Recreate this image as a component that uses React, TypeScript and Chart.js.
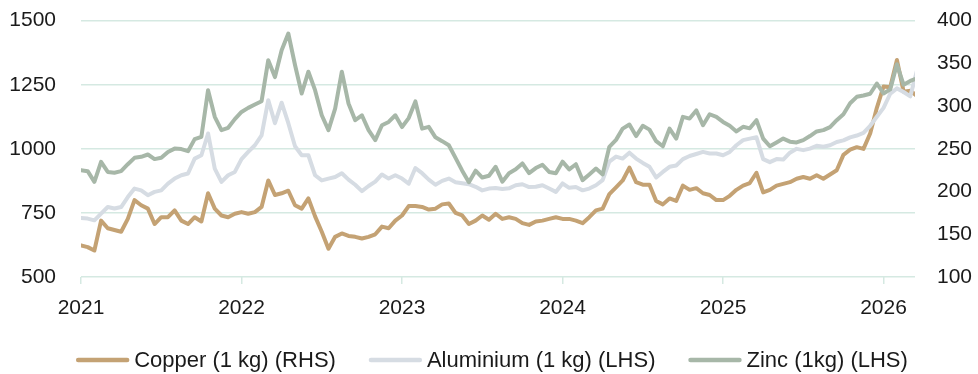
import { useEffect, useRef } from "react";
import { Chart, registerables } from "chart.js";

Chart.register(...registerables);

// Half-monthly observations starting in January 2021
const START_YEAR = 2021;
const STEPS_PER_YEAR = 24;

const yearTicks = [2021, 2022, 2023, 2024, 2025, 2026];
const leftTicks = [500, 750, 1000, 1250, 1500];
const rightTicks = [100, 150, 200, 250, 300, 350, 400];

// Copper, 1 kg (right-hand scale)
const copper = [
  137, 135, 131, 166, 157, 155, 153, 168, 190, 184, 180, 162, 170, 170, 178, 166, 162, 170, 165, 198, 180, 172, 170, 174,
  176, 174, 176, 182, 213, 196, 198, 201, 184, 180, 192, 171, 153, 133, 147, 151, 148, 147, 145, 147, 150, 159, 157, 166,
  172, 183, 183, 182, 179, 180, 185, 186, 175, 172, 162, 166, 172, 167, 174, 168, 170, 168, 163, 161, 165, 166, 168, 170,
  168, 168, 166, 163, 170, 178, 180, 197, 205, 213, 228, 211, 208, 208, 189, 185, 192, 189, 207, 202, 204, 198, 196, 190,
  190, 195, 202, 207, 210, 222, 199, 202, 207, 209, 211, 215, 217, 215, 219, 215, 220, 225, 243, 249, 252, 250, 268, 298,
  323, 322, 354, 317, 318, 312,
];

// Aluminium, 1 kg (left-hand scale)
const aluminium = [
  730, 728, 721, 747, 773, 767, 773, 812, 845, 838, 819, 832, 838, 864, 884, 897, 904, 962, 975, 1060, 923, 871, 897, 910,
  960, 988, 1014, 1053, 1190, 1100, 1180, 1100, 1010, 975, 975, 897, 877, 884, 890, 905, 880, 860, 835, 855, 872, 900, 884, 897,
  884, 864, 925, 905, 880, 860, 875, 884, 870, 866, 862, 852, 838, 845, 847, 843, 846, 858, 862, 851, 852, 858, 845, 832,
  865, 848, 851, 838, 845, 858, 878, 950, 970, 962, 985, 962, 945, 930, 888, 910, 930, 935, 960, 972, 980, 988, 982, 982,
  975, 988, 1014, 1034, 1040, 1045, 960, 948, 960, 958, 985, 1000, 995, 1001, 1012, 1008, 1014, 1027, 1033, 1045, 1052, 1062, 1090, 1125,
  1160, 1215, 1236, 1222, 1205, 1305,
];

// Zinc, 1 kg (left-hand scale)
const zinc = [
  917, 913, 871, 949, 910, 907, 913, 940, 965, 969, 978, 960, 965, 988, 1001, 999, 991, 1038, 1047, 1229, 1125, 1073, 1082, 1116,
  1144, 1160, 1173, 1186, 1346, 1280, 1385, 1450, 1327, 1216, 1301, 1229, 1131, 1073, 1157, 1301, 1177, 1112, 1131, 1073, 1034, 1092, 1105, 1131,
  1085, 1120, 1185, 1079, 1086, 1045, 1030, 1014, 965, 915, 870, 915, 888, 895, 930, 872, 905, 920, 943, 905, 925, 938, 910, 905,
  950, 920, 940, 878, 900, 923, 900, 1008, 1035, 1079, 1095, 1050, 1090, 1075, 1030, 1010, 1079, 1040, 1125, 1118, 1150, 1092, 1135, 1125,
  1105, 1090, 1068, 1086, 1080, 1112, 1040, 1010, 1025, 1040, 1028, 1025, 1034, 1050, 1068, 1073, 1085, 1112, 1135, 1178, 1203, 1208, 1215, 1255,
  1216, 1232, 1330, 1250, 1265, 1275,
];

const seriesLabels = ["Copper (1 kg) (RHS)", "Aluminium (1 kg) (LHS)", "Zinc (1kg) (LHS)"];

const COPPER_COLOR = "#c4a274";
const ALUMINIUM_COLOR = "#d6dce3";
const ZINC_COLOR = "#a7b7a8";
const GRID_COLOR = "#d5e9e2";
const TEXT_COLOR = "#1a1a1a";
const FONT_FAMILY = "'Liberation Sans', Arial, sans-serif";

const toPoints = (values: number[]) =>
  values.map((v, i) => ({ x: START_YEAR + i / STEPS_PER_YEAR, y: v }));

// Line-sample legend drawn under the plot
const bottomLegend = {
  id: "bottomLegend",
  afterDraw(chart: any) {
    const ctx = chart.ctx as CanvasRenderingContext2D;
    ctx.save();
    ctx.font = `22px ${FONT_FAMILY}`;
    const items = chart.data.datasets.map((ds: any) => ({
      label: ds.label as string,
      color: ds.borderColor as string,
      w: ctx.measureText(ds.label).width,
    }));
    const boxW = 53;
    const gap = 5;
    const spacing = 33;
    const total =
      items.reduce((s: number, it: any) => s + boxW + gap + it.w, 0) + spacing * (items.length - 1);
    let x = chart.width / 2 + 3 - total / 2;
    const y = 360;
    for (const it of items) {
      ctx.strokeStyle = it.color;
      ctx.lineWidth = 4.4;
      ctx.lineCap = "round";
      ctx.beginPath();
      ctx.moveTo(x + 2, y);
      ctx.lineTo(x + boxW - 2, y);
      ctx.stroke();
      ctx.fillStyle = TEXT_COLOR;
      ctx.textBaseline = "middle";
      ctx.textAlign = "left";
      ctx.fillText(it.label, x + boxW + gap, y + 1);
      x += boxW + gap + it.w + spacing;
    }
    ctx.restore();
  },
};

// Fixed axis thickness with no extra label overhang padding
const fixWidth = (w: number) => (s: any) => {
  s.width = w;
  s.paddingTop = 0;
  s.paddingBottom = 0;
};

export default function App() {
  const canvasRef = useRef<HTMLCanvasElement | null>(null);

  useEffect(() => {
    document.body.style.margin = "0";
    const canvas = canvasRef.current;
    if (!canvas) return;

    const tickFont = { size: 21, family: FONT_FAMILY };
    const plain = (v: any) => String(v);

    const chart = new Chart(canvas, {
      type: "line",
      data: {
        datasets: [
          {
            label: seriesLabels[0],
            data: toPoints(copper),
            yAxisID: "y1",
            borderColor: COPPER_COLOR,
            backgroundColor: COPPER_COLOR,
            order: 3,
          },
          {
            label: seriesLabels[1],
            data: toPoints(aluminium),
            yAxisID: "y",
            borderColor: ALUMINIUM_COLOR,
            backgroundColor: ALUMINIUM_COLOR,
            order: 2,
          },
          {
            label: seriesLabels[2],
            data: toPoints(zinc),
            yAxisID: "y",
            borderColor: ZINC_COLOR,
            backgroundColor: ZINC_COLOR,
            order: 1,
          },
        ],
      },
      options: {
        animation: false,
        responsive: true,
        maintainAspectRatio: false,
        layout: { autoPadding: false, padding: { top: 20.7, bottom: 0, left: 0, right: 0 } },
        elements: {
          point: { radius: 0 },
          line: { borderWidth: 4, tension: 0, borderJoinStyle: "round", borderCapStyle: "round" },
        },
        plugins: {
          legend: { display: false },
          tooltip: { enabled: false },
        },
        scales: {
          x: {
            type: "linear",
            min: 2021,
            max: 2026.196,
            afterBuildTicks: (s: any) => {
              s.ticks = yearTicks.map((v) => ({ value: v }));
            },
            afterFit: (s: any) => {
              s.height = 97;
              s.paddingLeft = 0;
              s.paddingRight = 0;
            },
            ticks: {
              font: tickFont,
              color: TEXT_COLOR,
              padding: 12,
              maxRotation: 0,
              autoSkip: false,
              callback: plain,
            },
            grid: { drawOnChartArea: false, tickLength: 7, color: GRID_COLOR, lineWidth: 1.5 },
            border: { display: false },
          },
          y: {
            position: "left",
            min: 500,
            max: 1500,
            afterBuildTicks: (s: any) => {
              s.ticks = leftTicks.map((v) => ({ value: v }));
            },
            afterFit: fixWidth(81),
            ticks: { font: tickFont, color: TEXT_COLOR, padding: 25, callback: plain },
            grid: { color: GRID_COLOR, lineWidth: 1.6, drawTicks: false },
            border: { display: false },
          },
          y1: {
            position: "right",
            min: 100,
            max: 400,
            afterBuildTicks: (s: any) => {
              s.ticks = rightTicks.map((v) => ({ value: v }));
            },
            afterFit: fixWidth(63),
            ticks: { font: tickFont, color: TEXT_COLOR, padding: 22, callback: plain },
            grid: { drawOnChartArea: false, drawTicks: false },
            border: { display: false },
          },
        },
      },
      plugins: [bottomLegend],
    });

    return () => chart.destroy();
  }, []);

  return (
    <div style={{ position: "relative", width: 978, height: 374 }}>
      <canvas ref={canvasRef} />
    </div>
  );
}
